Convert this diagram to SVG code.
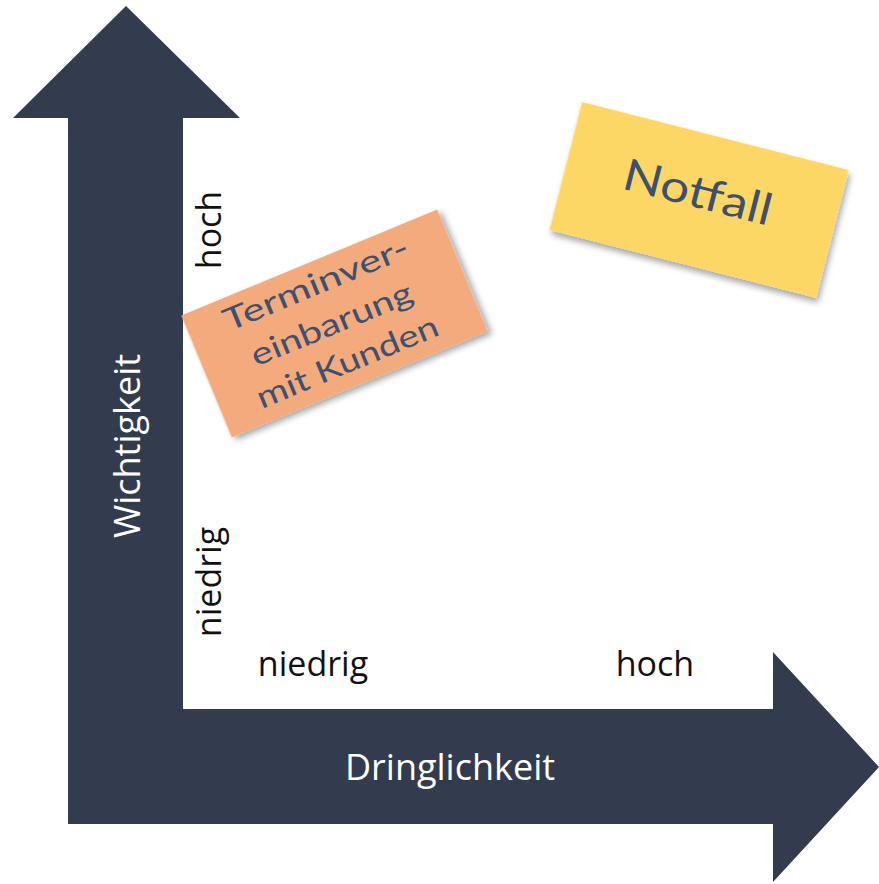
<svg xmlns="http://www.w3.org/2000/svg" width="879" height="884" viewBox="0 0 879 884">
  <defs>
    <filter id="shadow" x="-20%" y="-20%" width="140%" height="140%">
      <feDropShadow dx="3" dy="4" stdDeviation="3" flood-color="#000" flood-opacity="0.35"/>
    </filter>
    <style>
      .axis { fill: #323c4e; }
      .axisLabel { font-family: "Open Sans", "Liberation Sans", sans-serif; font-size: 36px; fill: #ffffff; text-anchor: middle; }
      .tick { font-family: "Open Sans", "Liberation Sans", sans-serif; font-size: 34px; fill: #111111; text-anchor: middle; }
      .note { filter: url(#shadow); }
      .noteText { font-family: "Lato", "Noto Sans", sans-serif; fill: #3e5070; text-anchor: middle; }
    </style>
  </defs>
  <rect width="879" height="884" fill="#ffffff"/>

  <g id="axes">
    <path class="axis" d="M68,824 L68,118 L13,118 L126,6 L240,118 L183,118 L183,709 L773,709 L773,652 L879,767 L773,882 L773,824 Z"/>
    <text class="axisLabel" transform="translate(140,446) rotate(-90)">Wichtigkeit</text>
    <text class="axisLabel" x="450" y="780">Dringlichkeit</text>
  </g>

  <g id="ticks">
    <text class="tick" transform="translate(221,230) rotate(-90)">hoch</text>
    <text class="tick" transform="translate(221,582) rotate(-90)">niedrig</text>
    <text class="tick" x="313" y="676">niedrig</text>
    <text class="tick" x="655" y="676">hoch</text>
  </g>

  <g id="note-termin" transform="translate(334.5,323.5) rotate(-22.5)">
    <rect class="note" x="-138.5" y="-66" width="277" height="132" fill="#f3aa7d"/>
    <text class="noteText" font-size="31" x="-2" y="-33" textLength="198" lengthAdjust="spacingAndGlyphs">Terminver-</text>
    <text class="noteText" font-size="31" x="-3" y="10" textLength="172" lengthAdjust="spacingAndGlyphs">einbarung</text>
    <text class="noteText" font-size="31" x="-3" y="51" textLength="194" lengthAdjust="spacingAndGlyphs">mit Kunden</text>
  </g>

  <g id="note-notfall" transform="translate(699,200) rotate(14.3)">
    <rect class="note" x="-137.5" y="-66" width="275" height="132" fill="#fdd765"/>
    <text class="noteText" font-size="44" x="-3" y="8" textLength="152" lengthAdjust="spacingAndGlyphs">Notfall</text>
  </g>
</svg>
